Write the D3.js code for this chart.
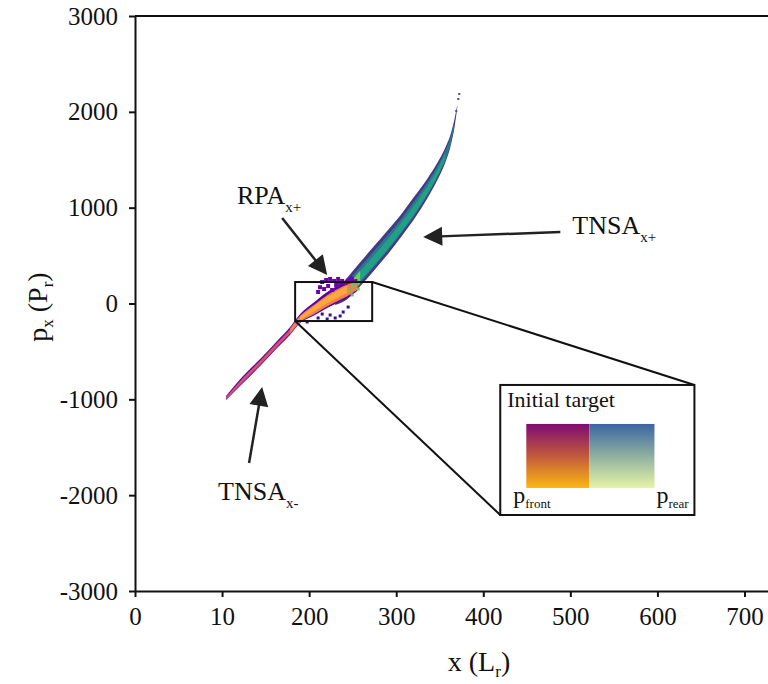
<!DOCTYPE html>
<html><head><meta charset="utf-8">
<script src="https://cdn.jsdelivr.net/npm/d3@7"></script>
<style>
body{margin:0;background:#fff}
svg text{font-family:"Liberation Serif","Times New Roman",serif;fill:#111}
</style>
</head><body>
<svg id="c" width="768" height="684"></svg>
<script>
// ---------- data ----------
const xTicks = [0, 100, 200, 300, 400, 500, 600, 700];
const xTickLabels = ["0", "10", "200", "300", "400", "500", "600", "700"];
const yTicks = [-3000, -2000, -1000, 0, 1000, 2000, 3000];

// front-side population (TNSA x-, RPA x+): band edges
const frontX     = [104.6, 124.1, 143.7, 163.2, 178.2, 189.7, 204.6, 220.7, 232.2, 243.7, 255.2];
const frontUpper = [-965, -756, -580, -391, -245, -110, 5, 120, 183, 235, 256];
const frontLower = [-1007, -830, -652, -464, -325, -203, -130, -47, 5, 57, 130];

// rear-side population (TNSA x+): band edges
const rearX     = [229.9, 243.7, 258.6, 273.6, 290.8, 306.9, 319.5, 335.6, 347.1, 356.3, 362.1, 366.7, 370.1];
const rearUpper = [130, 270, 430, 590, 770, 945, 1100, 1300, 1465, 1625, 1755, 1915, 2071];
const rearLower = [-15, 45, 180, 335, 520, 710, 865, 1095, 1285, 1470, 1630, 1825, 2040];

// scattered macro-particles
const rpaX = [214.9, 219.5, 224.1, 228.7, 233.3, 237.9, 221.8, 231.0, 241.4, 217.2, 226.4, 210.3, 245.0, 249.0, 235.5, 212.5];
const rpaP = [224, 245, 256, 235, 256, 235, 183, 193, 214, 151, 141, 120, 240, 260, 210, 170];
const lowX = [224.1, 229.9, 235.6, 239.1, 220.7, 244.8, 197.7, 210.3, 215.0];
const lowP = [-120, -151, -130, -89, -162, -37, -193, -151, -110];
const greenX = [247.1, 250.6, 254.0, 249.4, 256.3];
const greenP = [141, 183, 214, 89, 151];
const tipX = [368.97, 371.3, 372.4];
const tipP = [2008, 2134, 2186];

// zoom box (data coords) and inset box
const zoomBox = {x0: 183.9, x1: 272.4, p0: -183, p1: 224};
const insetBox = {x0: 419.5, x1: 642.5, p0: -2207, p1: -850};
const legendRect = {x0: 449.4, xm: 521.8, x1: 596.6, p0: -1925, p1: -1257};

// annotations: [tailX, tailP, tipX, tipP]
const arrows = [
  [169.0, 892, 220.7, 297],
  [488.5, 746, 331.0, 694],
  [131.0, -1664, 146.0, -871]
];
const labels = [
  {x: 117.2, p: 1038, main: "RPA", sub: "x+"},
  {x: 502.3, p: 725, main: "TNSA", sub: "x+"},
  {x: 95.4, p: -2050, main: "TNSA", sub: "x-"}
];

// ---------- drawing ----------
const svg = d3.select("#c");
const x = d3.scaleLinear().domain([0, 727]).range([135, 768]);
const y = d3.scaleLinear().domain([-3000, 3000]).range([591, 16]);

function bandRows(X, U, L, i0, i1, t0, t1) {
  const rows = [];
  for (let i = i0; i <= i1; i++) {
    rows.push({x: X[i], a: U[i] + (L[i] - U[i]) * t0, b: U[i] + (L[i] - U[i]) * t1});
  }
  return rows;
}
const area = d3.area().x(d => x(d.x)).y0(d => y(d.a)).y1(d => y(d.b)).curve(d3.curveMonotoneX);

const rearLayers = [
  {i0: 0, i1: 12, t0: 0, t1: 1, c: "#443983"},
  {i0: 1, i1: 11, t0: 0.2, t1: 0.85, c: "#2a788e"},
  {i0: 1, i1: 9, t0: 0.38, t1: 0.78, c: "#21a085"},
  {i0: 0, i1: 2, t0: 0.35, t1: 0.9, c: "#6ccd5a"}
];
const frontLayers = [
  {i0: 0, i1: 10, t0: 0, t1: 1, c: "#5c03a4"},
  {i0: 0, i1: 10, t0: 0.25, t1: 0.85, c: "#d4506e"},
  {i0: 4, i1: 10, t0: 0.2, t1: 0.9, c: "#f0804e"},
  {i0: 5, i1: 9, t0: 0.3, t1: 0.7, c: "#fca83a"}
];
const g = svg.append("g");
rearLayers.forEach(l => g.append("path")
  .attr("d", area(bandRows(rearX, rearUpper, rearLower, l.i0, l.i1, l.t0, l.t1)))
  .attr("fill", l.c));
frontLayers.forEach(l => g.append("path")
  .attr("d", area(bandRows(frontX, frontUpper, frontLower, l.i0, l.i1, l.t0, l.t1)))
  .attr("fill", l.c));

function dots(X, P, color, s) {
  g.selectAll(null).data(X.map((v, i) => [v, P[i]])).enter().append("rect")
    .attr("x", d => x(d[0]) - s / 2).attr("y", d => y(d[1]) - s / 2)
    .attr("width", s).attr("height", s).attr("fill", color);
}
dots(rpaX, rpaP, "#6a06a6", 4);
dots(lowX, lowP, "#3b0f8a", 3);
dots(greenX, greenP, "#5ec962", 3);
dots(tipX, tipP, "#3e4a89", 2);

// axes
const ax = svg.append("g").attr("transform", `translate(0,${y(-3000)})`)
  .call(d3.axisBottom(x).tickValues(xTicks).tickFormat((d, i) => xTickLabels[i])
    .tickSize(6).tickPadding(10).tickSizeOuter(0));
const ay = svg.append("g").attr("transform", `translate(${x(0)},0)`)
  .call(d3.axisLeft(y).tickValues(yTicks).tickFormat(d => String(d))
    .tickSize(6).tickPadding(11).tickSizeOuter(0));
[ax, ay].forEach(a => {
  a.attr("font-family", null).attr("font-size", null);
  a.selectAll("path,line").attr("stroke", "#111").attr("stroke-width", 2);
  a.selectAll("text").attr("font-size", 25).attr("fill", "#111");
});
svg.append("line").attr("x1", x(0)).attr("x2", x(727)).attr("y1", y(3000)).attr("y2", y(3000))
  .attr("stroke", "#111").attr("stroke-width", 2);

// axis titles
const xl = svg.append("text").attr("x", 479).attr("y", 671).attr("text-anchor", "middle").attr("font-size", 28);
xl.append("tspan").text("x (L");
xl.append("tspan").attr("font-size", 17).attr("dy", 6).text("r");
xl.append("tspan").attr("dy", -6).text(")");
const yl = svg.append("text").attr("transform", "translate(47,307) rotate(-90)")
  .attr("text-anchor", "middle").attr("font-size", 28);
yl.append("tspan").text("p");
yl.append("tspan").attr("font-size", 17).attr("dy", 6).text("x");
yl.append("tspan").attr("dy", -6).text(" (P");
yl.append("tspan").attr("font-size", 17).attr("dy", 6).text("r");
yl.append("tspan").attr("dy", -6).text(")");

// zoom box + connectors + inset
const lineCol = "#111";
svg.append("rect").attr("x", x(zoomBox.x0)).attr("y", y(zoomBox.p1))
  .attr("width", x(zoomBox.x1) - x(zoomBox.x0)).attr("height", y(zoomBox.p0) - y(zoomBox.p1))
  .attr("fill", "none").attr("stroke", lineCol).attr("stroke-width", 2);
svg.append("line").attr("x1", x(zoomBox.x1)).attr("y1", y(zoomBox.p1))
  .attr("x2", x(insetBox.x1)).attr("y2", y(insetBox.p1)).attr("stroke", lineCol).attr("stroke-width", 2);
svg.append("line").attr("x1", x(zoomBox.x0)).attr("y1", y(zoomBox.p0))
  .attr("x2", x(insetBox.x0)).attr("y2", y(insetBox.p0)).attr("stroke", lineCol).attr("stroke-width", 2);
svg.append("rect").attr("x", x(insetBox.x0)).attr("y", y(insetBox.p1))
  .attr("width", x(insetBox.x1) - x(insetBox.x0)).attr("height", y(insetBox.p0) - y(insetBox.p1))
  .attr("fill", "#fff").attr("stroke", lineCol).attr("stroke-width", 2);

const defs = svg.append("defs");
const gf = defs.append("linearGradient").attr("id", "gf").attr("x1", 0).attr("x2", 0).attr("y1", 0).attr("y2", 1);
[["0%", "#7e0b72"], ["50%", "#c2593d"], ["100%", "#fbb812"]].forEach(s => gf.append("stop").attr("offset", s[0]).attr("stop-color", s[1]));
const gr = defs.append("linearGradient").attr("id", "gr").attr("x1", 0).attr("x2", 0).attr("y1", 0).attr("y2", 1);
[["0%", "#3a65a2"], ["50%", "#8fb0a0"], ["100%", "#e6f4a6"]].forEach(s => gr.append("stop").attr("offset", s[0]).attr("stop-color", s[1]));
svg.append("rect").attr("x", x(legendRect.x0)).attr("y", y(legendRect.p1))
  .attr("width", x(legendRect.xm) - x(legendRect.x0)).attr("height", y(legendRect.p0) - y(legendRect.p1))
  .attr("fill", "url(#gf)");
svg.append("rect").attr("x", x(legendRect.xm)).attr("y", y(legendRect.p1))
  .attr("width", x(legendRect.x1) - x(legendRect.xm)).attr("height", y(legendRect.p0) - y(legendRect.p1))
  .attr("fill", "url(#gr)");
svg.append("text").attr("x", x(insetBox.x0) + 7).attr("y", y(insetBox.p1) + 22).attr("font-size", 22).text("Initial target");
const pf = svg.append("text").attr("x", x(insetBox.x0) + 13).attr("y", y(insetBox.p0) - 12).attr("font-size", 24);
pf.append("tspan").text("p");
pf.append("tspan").attr("font-size", 13).attr("dy", 5).text("front");
const pr = svg.append("text").attr("x", x(insetBox.x1) - 38).attr("y", y(insetBox.p0) - 12).attr("font-size", 24);
pr.append("tspan").text("p");
pr.append("tspan").attr("font-size", 13).attr("dy", 5).text("rear");

// arrows
arrows.forEach(a => {
  const x1 = x(a[0]), y1 = y(a[1]), x2 = x(a[2]), y2 = y(a[3]);
  const dx = x2 - x1, dy = y2 - y1, len = Math.hypot(dx, dy);
  const ux = dx / len, uy = dy / len, hl = 19, hw = 9.5;
  const bx = x2 - ux * hl, by = y2 - uy * hl;
  svg.append("line").attr("x1", x1).attr("y1", y1).attr("x2", bx + ux * 2).attr("y2", by + uy * 2)
    .attr("stroke", "#222").attr("stroke-width", 2.5);
  svg.append("path").attr("d", `M${x2},${y2}L${bx - uy * hw},${by + ux * hw}L${bx + uy * hw},${by - ux * hw}Z`)
    .attr("fill", "#222");
});
labels.forEach(l => {
  const t = svg.append("text").attr("x", x(l.x)).attr("y", y(l.p)).attr("font-size", 26);
  t.append("tspan").text(l.main);
  t.append("tspan").attr("font-size", 15).attr("dy", 8).text(l.sub);
});
</script>
</body></html>
